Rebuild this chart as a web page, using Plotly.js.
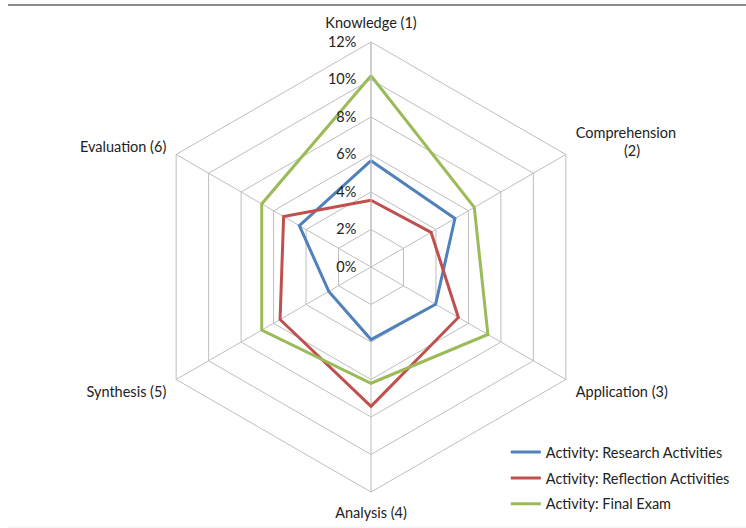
<!DOCTYPE html>
<html>
<head>
<meta charset="utf-8">
<script src="https://cdn.plot.ly/plotly-3.0.1.min.js"></script>
<style>html,body{margin:0;padding:0;background:#fff;}#chart{width:746px;height:528px;}</style>
</head>
<body>
<div id="chart"></div>
<script>
// Categories (clockwise from top)
const categories = ["Knowledge (1)", "Comprehension (2)", "Application (3)", "Analysis (4)", "Synthesis (5)", "Evaluation (6)"];
const categoryLabels = ["Knowledge (1)", "Comprehension<br>&nbsp;&nbsp;&nbsp;&nbsp;&nbsp;&nbsp;&nbsp;&nbsp;&nbsp;&nbsp;&nbsp;&nbsp;&nbsp;(2)", "Application (3)", "Analysis (4)", "Synthesis (5)", "Evaluation (6)"];
// Series values (fractions)
const researchActivities   = [0.0567, 0.0517, 0.0398, 0.0387, 0.0260, 0.0441];
const reflectionActivities = [0.0356, 0.0370, 0.0538, 0.0743, 0.0560, 0.0538];
const finalExam            = [0.1020, 0.0636, 0.0720, 0.0620, 0.0673, 0.0673];
const seriesNames = ["Activity: Research Activities", "Activity: Reflection Activities", "Activity: Final Exam"];
const radialTicks = [0, 0.02, 0.04, 0.06, 0.08, 0.10, 0.12];
const radialTickLabels = ["0%", "2%", "4%", "6%", "8%", "10%", "12%"];

const colors = ["#4F81BD", "#C0504D", "#9BBB59"];
const allSeries = [researchActivities, reflectionActivities, finalExam];

const traces = allSeries.map((vals, i) => ({
  type: "scatterpolar",
  mode: "lines",
  r: vals.concat([vals[0]]),
  theta: categories.concat([categories[0]]),
  name: seriesNames[i],
  legendgroup: "g" + i,
  line: {color: colors[i], width: 3},
  hoverinfo: "skip"
}));

const gridColor = "#BEBEBE";
const layout = {
  width: 746, height: 528,
  margin: {l: 0, r: 0, t: 0, b: 0},
  paper_bgcolor: "#ffffff",
  font: {family: "Lato, 'Open Sans', sans-serif", size: 14.5, color: "#222"},
  showlegend: true,
  legend: {
    x: 0.678, y: 0.174, xanchor: "left", yanchor: "top",
    bgcolor: "rgba(0,0,0,0)",
    font: {size: 14.5, color: "#222"},
    tracegroupgap: 4,
    itemwidth: 30
  },
  polar: {
    domain: {x: [146/746, 596/746], y: [1 - 492/528, 1 - 42/528]},
    bgcolor: "#ffffff",
    gridshape: "linear",
    radialaxis: {
      range: [0, 0.12],
      tickmode: "array",
      tickvals: radialTicks,
      ticktext: radialTickLabels.map(t => t + "\u2002\u2009"),
      angle: 90,
      side: "counterclockwise",
      tickangle: 90,
      showline: true,
      linecolor: gridColor,
      linewidth: 1,
      gridcolor: gridColor,
      gridwidth: 1,
      ticks: "",
      tickfont: {size: 14.5, color: "#222"}
    },
    angularaxis: {
      type: "category",
      categoryorder: "array",
      categoryarray: categories,
      tickvals: categories,
      ticktext: categoryLabels,
      rotation: 90,
      direction: "clockwise",
      showline: true,
      linecolor: gridColor,
      linewidth: 1,
      gridcolor: gridColor,
      gridwidth: 1,
      ticks: "outside",
      ticklen: 8,
      tickcolor: "rgba(0,0,0,0)",
      tickfont: {size: 14.5, color: "#222"}
    }
  },
  shapes: [
    {type: "line", xref: "paper", yref: "paper", x0: 8/746, x1: 1, y0: 1 - 5/528, y1: 1 - 5/528, line: {color: "#8c8c8c", width: 2}},
    {type: "line", xref: "paper", yref: "paper", x0: 8/746, x1: 1, y0: 1/528, y1: 1/528, line: {color: "#eeeeee", width: 1}}
  ]
};

Plotly.newPlot("chart", traces, layout, {displayModeBar: false, staticPlot: true});
</script>
</body>
</html>
